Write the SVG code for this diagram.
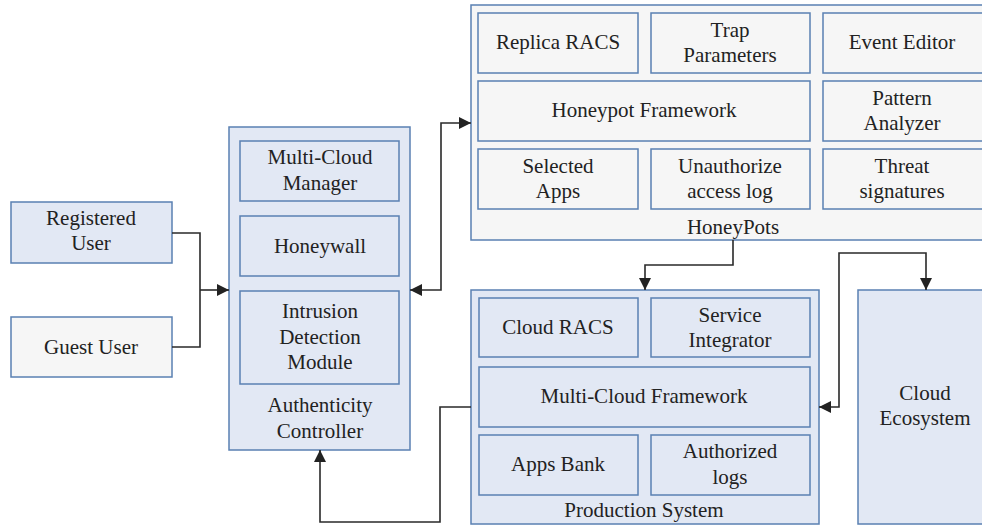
<svg xmlns="http://www.w3.org/2000/svg" width="982" height="526" viewBox="0 0 982 526">
  <style>
    .blue { fill: #e2e8f4; stroke: #5a80b2; stroke-width: 1.5; }
    .grey { fill: #f6f6f6; stroke: #5a80b2; stroke-width: 1.5; }
    .lbl { font-family: "Liberation Serif", "Times New Roman", serif; font-size: 21px; fill: #222; text-anchor: middle; dominant-baseline: central; }
    .wire { fill: none; stroke: #2a2a2a; stroke-width: 1.6; }
  </style>
  <defs>
    <marker id="arrow" viewBox="0 0 12 12" refX="12" refY="6" markerWidth="12" markerHeight="12" markerUnits="userSpaceOnUse" orient="auto-start-reverse">
      <path d="M0,0 L12,6 L0,12 z" fill="#222"/>
    </marker>
  </defs>

  <rect width="982" height="526" fill="#ffffff"/>

  <!-- users -->
  <g id="registered-user">
    <rect class="blue" x="11" y="202" width="161" height="61"/>
    <text class="lbl" x="91" y="218">Registered</text>
    <text class="lbl" x="91" y="243">User</text>
  </g>
  <g id="guest-user">
    <rect class="grey" x="11" y="317" width="161" height="60"/>
    <text class="lbl" x="91" y="347">Guest User</text>
  </g>

  <!-- authenticity controller -->
  <g id="authenticity-controller">
    <rect class="blue" x="229" y="127" width="181" height="323"/>
    <rect class="blue" x="240" y="141" width="159" height="60"/>
    <text class="lbl" x="320" y="157">Multi-Cloud</text>
    <text class="lbl" x="320" y="183">Manager</text>
    <rect class="blue" x="240" y="216" width="159" height="60"/>
    <text class="lbl" x="320" y="246">Honeywall</text>
    <rect class="blue" x="240" y="291" width="159" height="93"/>
    <text class="lbl" x="320" y="311">Intrusion</text>
    <text class="lbl" x="320" y="337">Detection</text>
    <text class="lbl" x="320" y="362">Module</text>
    <text class="lbl" x="320" y="405">Authenticity</text>
    <text class="lbl" x="320" y="431">Controller</text>
  </g>

  <!-- honeypots -->
  <g id="honeypots">
    <rect class="grey" x="471" y="5" width="520" height="235"/>
    <rect class="grey" x="478" y="13" width="160" height="60"/>
    <text class="lbl" x="558" y="42">Replica RACS</text>
    <rect class="grey" x="651" y="13" width="159" height="60"/>
    <text class="lbl" x="730" y="30">Trap</text>
    <text class="lbl" x="730" y="55">Parameters</text>
    <rect class="grey" x="823" y="13" width="170" height="60"/>
    <text class="lbl" x="902" y="42">Event Editor</text>
    <rect class="grey" x="478" y="81" width="332" height="60"/>
    <text class="lbl" x="644" y="110">Honeypot Framework</text>
    <rect class="grey" x="823" y="81" width="170" height="60"/>
    <text class="lbl" x="902" y="98">Pattern</text>
    <text class="lbl" x="902" y="123">Analyzer</text>
    <rect class="grey" x="478" y="149" width="160" height="60"/>
    <text class="lbl" x="558" y="166">Selected</text>
    <text class="lbl" x="558" y="191">Apps</text>
    <rect class="grey" x="651" y="149" width="159" height="60"/>
    <text class="lbl" x="730" y="166">Unauthorize</text>
    <text class="lbl" x="730" y="191">access log</text>
    <rect class="grey" x="823" y="149" width="170" height="60"/>
    <text class="lbl" x="902" y="166">Threat</text>
    <text class="lbl" x="902" y="191">signatures</text>
    <text class="lbl" x="733" y="227">HoneyPots</text>
  </g>

  <!-- production system -->
  <g id="production-system">
    <rect class="blue" x="471" y="290" width="348" height="234"/>
    <rect class="blue" x="479" y="298" width="159" height="59"/>
    <text class="lbl" x="558" y="327">Cloud RACS</text>
    <rect class="blue" x="651" y="298" width="159" height="59"/>
    <text class="lbl" x="730" y="315">Service</text>
    <text class="lbl" x="730" y="340">Integrator</text>
    <rect class="blue" x="479" y="367" width="331" height="60"/>
    <text class="lbl" x="644" y="396">Multi-Cloud Framework</text>
    <rect class="blue" x="479" y="435" width="159" height="60"/>
    <text class="lbl" x="558" y="464">Apps Bank</text>
    <rect class="blue" x="651" y="435" width="159" height="60"/>
    <text class="lbl" x="730" y="451">Authorized</text>
    <text class="lbl" x="730" y="477">logs</text>
    <text class="lbl" x="644" y="510">Production System</text>
  </g>

  <!-- cloud ecosystem -->
  <g id="cloud-ecosystem">
    <rect class="blue" x="858" y="290" width="140" height="234"/>
    <text class="lbl" x="925" y="393">Cloud</text>
    <text class="lbl" x="925" y="418">Ecosystem</text>
  </g>

  <!-- connectors -->
  <g id="connectors">
    <path class="wire" d="M172,233 H200 V347 H172"/>
    <path class="wire" d="M200,290 H229" marker-end="url(#arrow)"/>
    <path class="wire" d="M410,290 H441 V123 H471" marker-start="url(#arrow)" marker-end="url(#arrow)"/>
    <path class="wire" d="M733,240 V265 H645 V290" marker-end="url(#arrow)"/>
    <path class="wire" d="M819,407 H839 V253 H926 V290" marker-start="url(#arrow)" marker-end="url(#arrow)"/>
    <path class="wire" d="M471,407 H440 V522 H320 V450" marker-end="url(#arrow)"/>
  </g>
</svg>
